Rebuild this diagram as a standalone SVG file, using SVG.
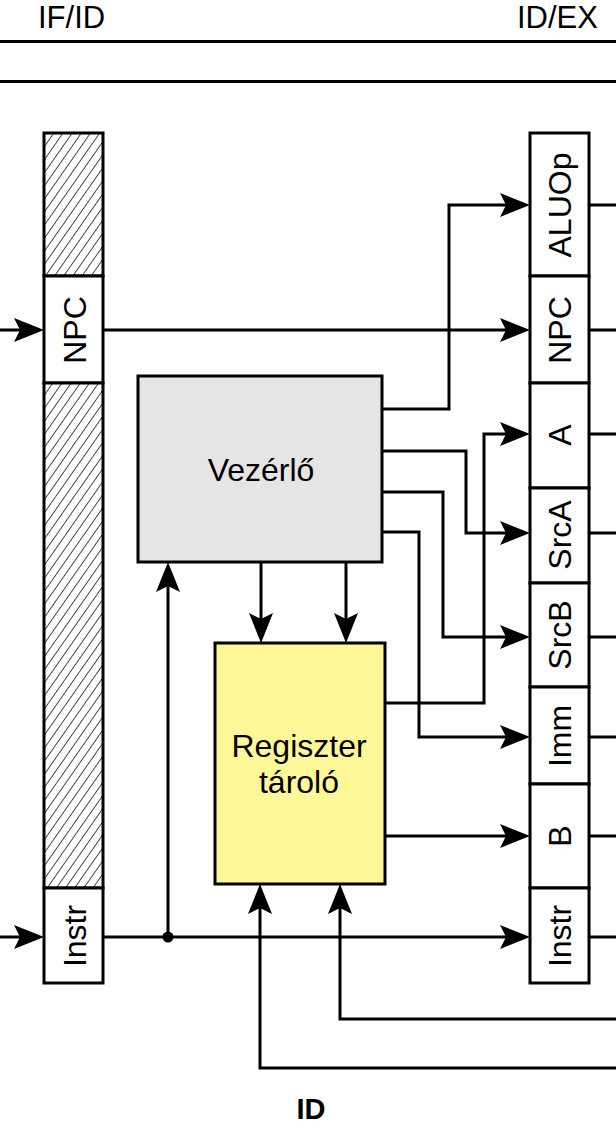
<svg xmlns="http://www.w3.org/2000/svg" width="616" height="1126" viewBox="0 0 616 1126">
<style>
.t{font-family:"Liberation Sans",Arial,sans-serif;fill:#000}
.box{stroke:#000;stroke-width:3}
.cell{fill:#fff;stroke:#000;stroke-width:3}
.w{fill:none;stroke:#000;stroke-width:3}
.a{fill:none;stroke:#000;stroke-width:3;marker-end:url(#ah)}
.lbl{font-family:"Liberation Sans",Arial,sans-serif;font-size:32px;text-anchor:middle}
</style>
<defs>
<marker id="ah" markerUnits="userSpaceOnUse" markerWidth="30" markerHeight="24" refX="24" refY="12" orient="auto" viewBox="0 0 30 24">
<path d="M0,0 L30,12 L0,24 L6,12 Z" fill="#000"/>
</marker>
<pattern id="hatch" patternUnits="userSpaceOnUse" width="7.5" height="7.5" patternTransform="rotate(35)">
<rect width="7.5" height="7.5" fill="#fff"/>
<line x1="0" y1="0" x2="0" y2="7.5" stroke="#000" stroke-width="1.4"/>
</pattern>
</defs>
<rect width="616" height="1126" fill="#fff"/>

<g id="header">
<text class="t" x="38" y="28" font-size="31">IF/ID</text>
<text class="t" x="517" y="28" font-size="31">ID/EX</text>
<line x1="0" y1="41.5" x2="616" y2="41.5" stroke="#000" stroke-width="3"/>
<line x1="0" y1="81.5" x2="616" y2="81.5" stroke="#000" stroke-width="3"/>
<text class="t" x="311" y="1119" font-size="29" font-weight="bold" text-anchor="middle">ID</text>
</g>

<g id="ifid">
<rect class="cell" x="44" y="133" width="59" height="143" style="fill:url(#hatch)"/>
<rect class="cell" x="44" y="276" width="59" height="107"/>
<rect class="cell" x="44" y="383" width="59" height="505" style="fill:url(#hatch)"/>
<rect class="cell" x="44" y="888" width="59" height="95"/>
<text class="lbl" transform="translate(86,330) rotate(-90)">NPC</text>
<text class="lbl" transform="translate(86,936) rotate(-90)">Instr</text>
</g>

<g id="idex">
<rect class="cell" x="530" y="133" width="59" height="143"/>
<rect class="cell" x="530" y="276" width="59" height="107"/>
<rect class="cell" x="530" y="383" width="59" height="105"/>
<rect class="cell" x="530" y="488" width="59" height="95"/>
<rect class="cell" x="530" y="583" width="59" height="104"/>
<rect class="cell" x="530" y="687" width="59" height="97"/>
<rect class="cell" x="530" y="784" width="59" height="104"/>
<rect class="cell" x="530" y="888" width="59" height="95"/>
<text class="lbl" transform="translate(571,205) rotate(-90)">ALUOp</text>
<text class="lbl" transform="translate(571,330) rotate(-90)">NPC</text>
<text class="lbl" transform="translate(571,435) rotate(-90)">A</text>
<text class="lbl" transform="translate(571,535) rotate(-90)">SrcA</text>
<text class="lbl" transform="translate(571,635) rotate(-90)">SrcB</text>
<text class="lbl" transform="translate(571,736) rotate(-90)">Imm</text>
<text class="lbl" transform="translate(571,836) rotate(-90)">B</text>
<text class="lbl" transform="translate(571,936) rotate(-90)">Instr</text>
</g>

<g id="vezerlo">
<rect class="box" x="138" y="376" width="244" height="186" fill="#e5e5e5"/>
<text class="lbl" x="261" y="481">Vezérlő</text>
</g>

<g id="regiszter">
<rect class="box" x="215" y="643" width="170" height="241" fill="#fff899"/>
<text class="lbl" x="299" y="757">Regiszter</text>
<text class="lbl" x="299" y="793">tároló</text>
</g>

<g id="connectors">
<path class="a" d="M0,330 H38"/>
<path class="a" d="M103,330 H524"/>
<path class="a" d="M0,937 H38"/>
<path class="a" d="M103,937 H524"/>
<circle cx="168" cy="937" r="5.5" fill="#000"/>
<path class="a" d="M168,937 V568"/>
<path class="a" d="M382,409 H449 V205 H524"/>
<path class="a" d="M382,451 H466 V533 H524"/>
<path class="a" d="M382,492 H443 V637 H524"/>
<path class="a" d="M382,532 H419 V737 H524"/>
<path class="a" d="M385,703 H484 V434 H524"/>
<path class="a" d="M385,836 H524"/>
<path class="a" d="M261,562 V637"/>
<path class="a" d="M346,562 V637"/>
<path class="a" d="M616,1019 H340 V890"/>
<path class="a" d="M616,1068 H260 V890"/>
<path class="w" d="M589,205 H616 M589,330 H616 M589,434 H616 M589,533 H616 M589,637 H616 M589,737 H616 M589,836 H616 M589,937 H616"/>
</g>
</svg>
